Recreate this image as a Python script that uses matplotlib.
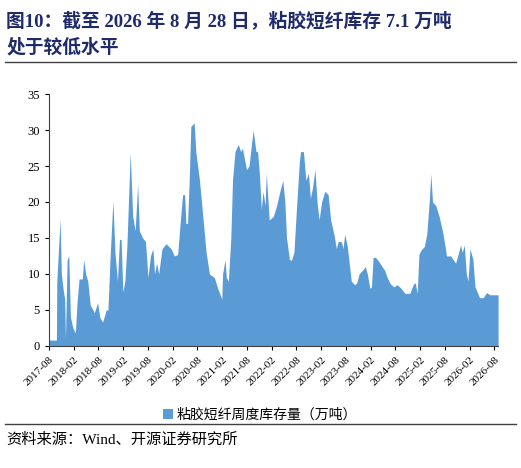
import matplotlib
matplotlib.use('Agg')
import matplotlib.pyplot as plt
import matplotlib.dates as mdates
import pandas as pd
import numpy as np

plt.rcParams['font.family'] = ['Liberation Serif', 'Noto Sans CJK SC']

# months since 2017-08-01, and inventory (10k tonnes)
months = [0, 1.8, 1.9, 2.7, 3, 3.4, 3.8, 4, 4.4, 4.8, 5.2, 5.8, 6.4, 6.8, 7.3, 8.1, 8.4, 8.9,
          9.4, 10, 11, 11.8, 12.3, 13, 13.9, 14.3, 14.8, 15.5, 16, 16.6, 17.1, 17.5, 17.9,
          18.4, 18.9, 19.7, 20.3, 20.9, 21.5, 21.9, 22.7, 23.4, 24, 24.6, 25.2, 25.6, 26.1,
          26.6, 27.4, 28.4, 29.6, 30.4, 31.2, 31.8, 32.4, 32.9, 33.2, 33.6, 34, 34.4, 35.2,
          35.6, 36.5, 37.3, 38.1, 38.9, 40.1, 40.9, 41.9, 42.1, 42.7, 43.0, 43.5, 44.1, 44.5,
          45.1, 45.9, 46.5, 46.9, 47.9, 48.5, 49, 49.5, 50.2, 50.6, 51, 51.5, 51.9, 52.4,
          52.7, 53.4, 54.4, 55.2, 56, 56.7, 57.2, 57.6, 58.3, 58.8, 59.4, 60, 60.7, 61,
          61.7, 62.3, 62.9, 63.4, 63.9, 64.5, 65, 65.5, 66.1, 66.9, 67.7, 68.3, 69.1, 69.7,
          70.1, 70.9, 71.3, 71.7, 72.3, 72.9, 73.3, 74.1, 74.6, 75.2, 76, 76.7, 77.2, 77.8,
          78.2, 78.6, 79.2, 80, 80.8, 81.4, 82, 82.8, 83.6, 84.4, 85.2, 86.3, 87.5, 88.3,
          88.8, 89.3, 89.7, 90.2, 91, 91.6, 92.2, 92.6, 93, 93.8, 94.6, 95.4, 96, 96.4,
          97.4, 98, 98.6, 99.1, 99.8, 100.2, 100.7, 101.2, 101.6, 102.1, 102.8, 103.3,
          104.4, 105.3, 106.1, 106.9, 108.9]
stock = [0.8, 0.8, 9, 17.6, 10, 8, 6.5, 1, 12, 12.5, 4, 2.5, 1.8, 6, 9.3, 9.3, 12, 10,
         9, 5.7, 4.6, 6, 4, 3.3, 5, 5, 12, 20.2, 13, 9, 14.8, 14.8, 7.5,
         9, 14, 26.8, 18, 16, 22.5, 16, 15, 14.5, 9.5, 12.5, 13.5, 10, 11.5,
         10, 13.5, 14.2, 13.5, 12.5, 12.7, 17, 21, 21, 17, 17, 23, 30.5, 31,
         27, 23, 18, 13, 10, 9.5, 8, 6.5, 10, 12, 9.5, 9, 15, 23,
         27, 28, 27, 27.5, 24.5, 25, 27.5, 30, 27, 27, 24, 19, 21.5, 19.5,
         24, 17.5, 18, 19.5, 21.5, 23, 20, 15, 12, 11.9, 13, 19, 25.5, 27,
         27, 23, 24, 20.5, 22, 24.5, 20, 17.5, 20, 21.5, 21, 17.5, 15.5, 13.5,
         14.5, 14.5, 13.5, 15.5, 14, 11, 9, 8.5, 8.7, 10, 10.5, 11, 10, 8,
         8.2, 12.3, 12.3, 11.7, 11, 10.5, 9.5, 8.6, 8.2, 8.5, 8.1, 7.3, 7.3, 8.5,
         8.8, 7.3, 12.7, 13.3, 13.8, 15.5, 20, 23.9, 20, 19.5, 18, 16, 14, 12.5,
         12.5, 12, 11.5, 12.5, 14, 13, 14, 10, 9, 13.5, 12, 8.2,
         6.7, 6.7, 7.4, 7.1, 7.1]

start = pd.Timestamp('2017-08-01')
dates = [start + pd.Timedelta(days=m * 30.44) for m in months]

fig = plt.figure(figsize=(5.21, 4.68), dpi=100)
ax = fig.add_axes([0.094, 0.261, 0.862, 0.538])

ax.fill_between(dates, stock, 0, color='#5B9BD5', lw=0, label='粘胶短纤周度库存量（万吨）')
ax.set_ylim(0, 35)
ax.set_yticks(range(0, 36, 5))
ax.set_xlim(start, dates[-1])
ticks = pd.date_range('2017-08-01', '2026-08-01', freq='6MS')
ax.set_xticks(ticks)
ax.set_xticklabels([t.strftime('%Y-%m') for t in ticks], rotation=45, ha='right',
                   rotation_mode='anchor', fontsize=8)
ax.tick_params(axis='y', labelsize=9, length=3)
ax.tick_params(axis='x', length=3)
for s in ['top', 'right']:
    ax.spines[s].set_visible(False)
ax.spines['left'].set_color('#404040')
ax.spines['bottom'].set_color('#404040')

ax.legend(loc='upper center', bbox_to_anchor=(0.47, -0.2), frameon=False, fontsize=10,
          handlelength=0.7, handleheight=0.7, handletextpad=0.3)

fig.text(0.012, 0.975, '图10：截至 2026 年 8 月 28 日，粘胶短纤库存 7.1 万吨', fontsize=13.5,
         fontweight='bold', color='#1F2A6B', va='top')
fig.text(0.012, 0.918, '处于较低水平', fontsize=13.5, fontweight='bold', color='#1F2A6B', va='top')
fig.add_artist(plt.Line2D([0.01, 0.99], [0.868, 0.868], color='#404040', lw=1))
fig.add_artist(plt.Line2D([0.01, 0.99], [0.095, 0.095], color='#404040', lw=1))
fig.text(0.012, 0.06, '资料来源：Wind、开源证券研究所', fontsize=11, va='center')

fig.savefig('out.png', dpi=100)
